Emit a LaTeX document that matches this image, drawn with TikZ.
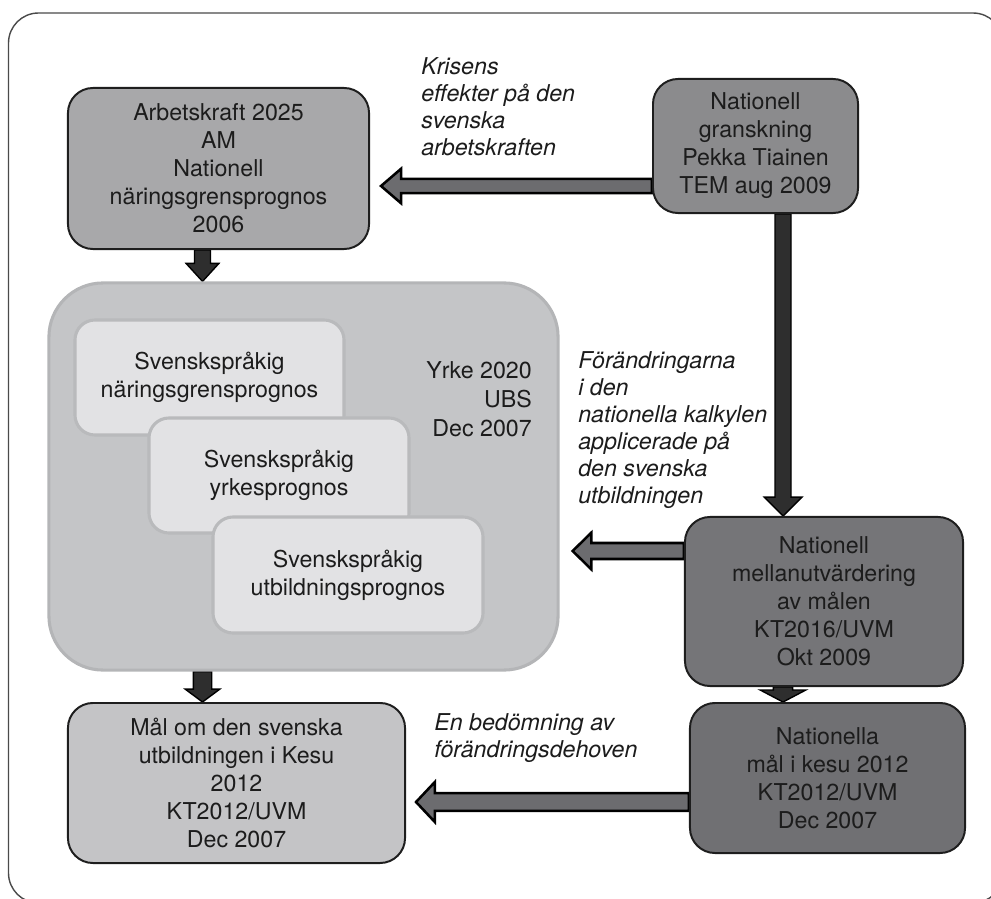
\documentclass[tikz,border=0pt]{standalone}
\usepackage{fontspec}
\setmainfont{TeX Gyre Heros}
\usetikzlibrary{positioning, calc, backgrounds}
\definecolor{framegray}{HTML}{4A4A4A}
\definecolor{boxedge}{HTML}{1E1E1E}
\definecolor{inkgray}{HTML}{1C1C1C}
\definecolor{fillA}{HTML}{A8A8AA}
\definecolor{fillB}{HTML}{8B8B8D}
\definecolor{fillC}{HTML}{757578}
\definecolor{fillD}{HTML}{707073}
\definecolor{fillE}{HTML}{C4C4C6}
\definecolor{bigfill}{HTML}{C4C5C7}
\definecolor{bigedge}{HTML}{B4B5B7}
\definecolor{subfill}{HTML}{E2E2E4}
\definecolor{subedge}{HTML}{B9BABC}
\definecolor{arrowgray}{HTML}{6C6C6F}
\definecolor{arrowdark}{HTML}{2E2E2E}
\tikzset{
  flowbox/.style={
    rectangle, rounded corners=0.625cm,
    draw=boxedge, line width=1.4pt,
    align=center, text=inkgray, inner sep=0pt,
    font=\fontsize{16.5}{19.9}\selectfont
  },
  bigbox/.style={
    rectangle, rounded corners=1.35cm,
    draw=bigedge, fill=bigfill, line width=2.2pt
  },
  subbox/.style={
    rectangle, rounded corners=0.5cm,
    draw=subedge, fill=subfill, line width=2.2pt,
    align=center, text=inkgray, inner sep=0pt,
    font=\fontsize{16.5}{19.9}\selectfont
  },
  remark/.style={
    align=left, text=inkgray, inner sep=0pt,
    font=\fontsize{16.5}{19.2}\selectfont\itshape
  },
  shaft half/.store in=\arrshaft,
  head half/.store in=\arrhead,
  tip length/.store in=\arrtip,
  shaft half=0.2cm, head half=0.45cm, tip length=0.47cm,
  blockarrow/.style={
    line join=miter,
    to path={
      ($(\tikztostart)!\arrshaft!90:(\tikztotarget)$)
      -- ($(\tikztotarget)!\arrtip!(\tikztostart)!\arrshaft!90:(\tikztotarget)$)
      -- ($(\tikztotarget)!\arrtip!(\tikztostart)!\arrhead!90:(\tikztotarget)$)
      -- (\tikztotarget)
      -- ($(\tikztotarget)!\arrtip!(\tikztostart)!\arrhead!-90:(\tikztotarget)$)
      -- ($(\tikztotarget)!\arrtip!(\tikztostart)!\arrshaft!-90:(\tikztotarget)$)
      -- ($(\tikztostart)!\arrshaft!-90:(\tikztotarget)$)
      -- cycle
    }
  },
  greyarrow/.style={blockarrow, fill=arrowgray, draw=black, line width=1.8pt},
  darkarrow/.style={blockarrow, fill=arrowdark, draw=black, line width=1pt}
}

\begin{document}
\begin{tikzpicture}[x=0.025cm, y=-0.025cm]
\useasboundingbox (0,0) rectangle (991,899);

% outer frame, cut at the page edge
\begin{scope}
  \clip (0,0) rectangle (991,899);
  \draw[framegray, line width=1pt, rounded corners=0.75cm] (8.5,13) rectangle (1003,903);
\end{scope}

% boxes
\node[flowbox, fill=fillA, minimum width=7.525cm, minimum height=4.025cm]
  (arbetskraft) at (218.5,168.5) {Arbetskraft 2025\\AM\\Nationell\\näringsgrensprognos\\2006};
\node[flowbox, fill=fillB, minimum width=5.125cm, minimum height=3.35cm]
  (granskning) at (755.5,146) {Nationell\\granskning\\Pekka Tiainen\\TEM aug 2009};

\node[bigbox, minimum width=12.725cm, minimum height=9.675cm] (yrke) at (303.5,476.5) {};
\node[remark, font=\fontsize{16.5}{20.5}\selectfont, align=right, anchor=east]
  (ubs) at (532,399) {Yrke 2020\\UBS\\Dec 2007};
\node[subbox, minimum width=6.725cm, minimum height=2.875cm]
  (naring) at (209.5,377.5) {Svenskspråkig\\näringsgrensprognos};
\node[subbox, minimum width=6.5cm, minimum height=2.875cm]
  (yrkesprognos) at (279,475.5) {Svenskspråkig\\yrkesprognos};
\node[subbox, minimum width=6.75cm, minimum height=2.9cm]
  (utbildning) at (348,575) {Svenskspråkig\\utbildningsprognos};

\node[flowbox, fill=fillC, minimum width=6.95cm, minimum height=4.225cm]
  (mellan) at (824,601.5) {Nationell\\mellanutvärdering\\av målen\\KT2016/UVM\\Okt 2009};
\node[flowbox, fill=fillD, minimum width=6.875cm, minimum height=3.75cm]
  (nationella) at (827.5,778) {Nationella\\mål i kesu 2012\\KT2012/UVM\\ Dec 2007};
\node[flowbox, fill=fillE, minimum width=8.425cm, minimum height=4cm]
  (kesu) at (236.5,783) {Mål om den svenska\\utbildningen i Kesu\\2012\\KT2012/UVM\\Dec 2007};

% labels
\node[remark, anchor=west] (kris) at (421,107) {Krisens\\effekter på den\\svenska\\arbetskraften};
\node[remark, anchor=west] (andring) at (578,430) {Förändringarna\\i den\\nationella kalkylen\\applicerade på\\den svenska\\utbildningen};
\node[remark, anchor=west] (bedom) at (434,738) {En bedömning av\\förändringsdehoven};

% arrows
\begin{scope}[on background layer]
  \coordinate (k1) at ($(granskning.west)+(0,40)$);
  \coordinate (k2) at ($(k1 -| arbetskraft.east)+(11,0)$);
  \draw[greyarrow, shaft half=0.18cm, head half=0.43cm, tip length=0.5cm] (k1) to (k2);

  \coordinate (a1) at ($(arbetskraft.south)+(-16,0)$);
  \coordinate (a2) at (a1 |- yrke.north);
  \draw[darkarrow, head half=0.41cm, tip length=0.45cm] (a1) to (a2);

  \coordinate (y1) at (a1 |- yrke.south);
  \coordinate (y2) at (a1 |- kesu.north);
  \draw[darkarrow, shaft half=0.23cm, head half=0.43cm, tip length=0.32cm] (y1) to (y2);

  \coordinate (b1) at ($(granskning.south)+(27.5,0)$);
  \coordinate (b2) at (b1 |- mellan.north);
  \draw[darkarrow, head half=0.47cm] (b1) to (b2);

  \coordinate (m1) at ($(mellan.south)+(-41,0)$);
  \coordinate (m2) at (m1 |- nationella.north);
  \draw[darkarrow, shaft half=0.24cm, head half=0.57cm, tip length=0.3cm] (m1) to (m2);

  \coordinate (c1) at ($(mellan.west)+(0,-50.5)$);
  \coordinate (c2) at ($(c1 -| yrke.east)+(13,0)$);
  \draw[greyarrow, head half=0.46cm] (c1) to (c2);

  \coordinate (d1) at ($(nationella.west)+(0,24)$);
  \coordinate (d2) at ($(d1 -| kesu.east)+(10,0)$);
  \draw[greyarrow, shaft half=0.22cm, head half=0.5cm] (d1) to (d2);
\end{scope}
\end{tikzpicture}
\end{document}
